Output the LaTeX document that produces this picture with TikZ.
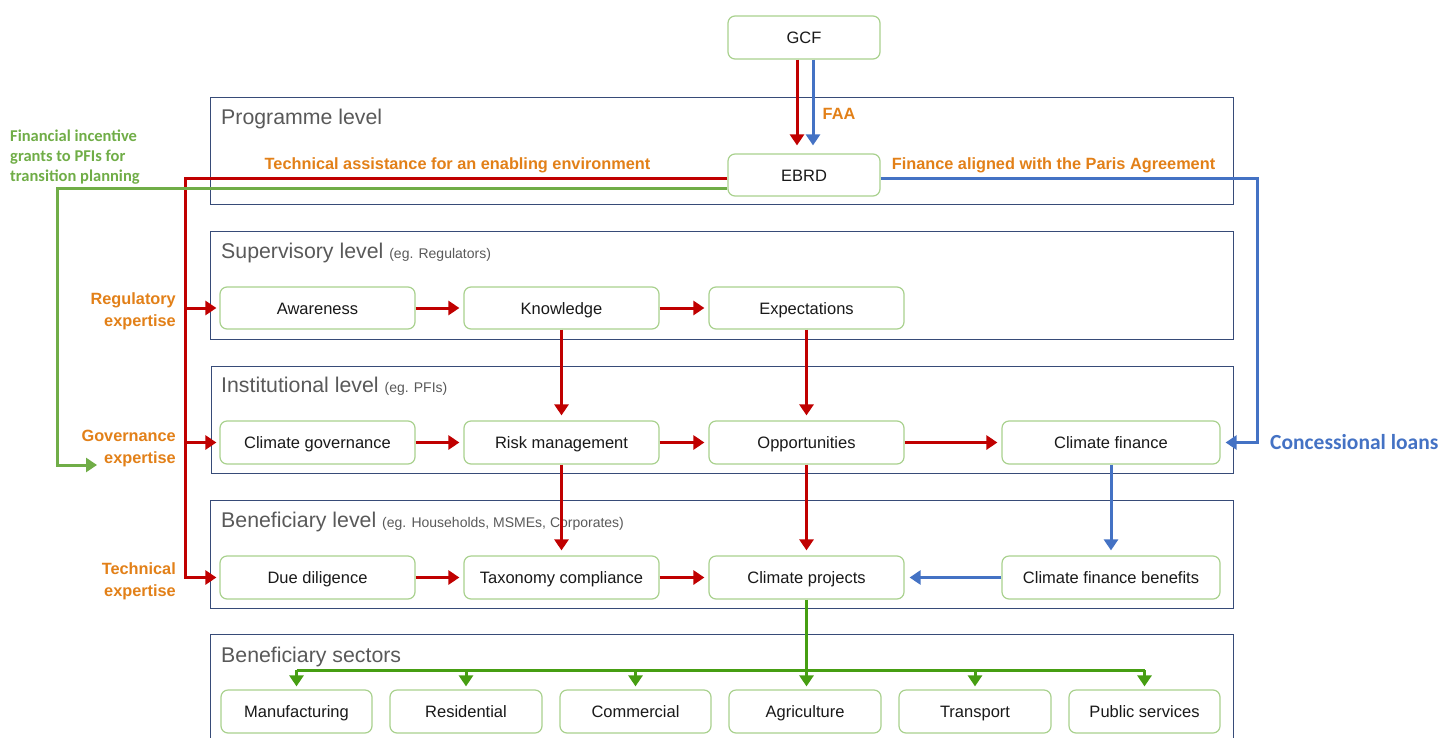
\documentclass[tikz,border=0pt]{standalone}
\usepackage{fontspec}
\setmainfont{Liberation Sans}
\newfontfamily\carlito{Carlito}
\usetikzlibrary{arrows.meta}
\definecolor{boxgreen}{RGB}{169,209,142}
\definecolor{panelc}{RGB}{55,75,120}
\definecolor{titlec}{RGB}{89,89,89}
\definecolor{txtc}{RGB}{25,25,25}
\definecolor{redc}{RGB}{192,0,0}
\definecolor{bluec}{RGB}{68,114,196}
\definecolor{lgreen}{RGB}{112,173,71}
\definecolor{dgreen}{RGB}{70,158,18}
\definecolor{orangec}{RGB}{226,128,24}
\tikzset{
  box/.style={draw=boxgreen, line width=1.2pt, rounded corners=7pt, fill=white, text=txtc,
    font=\fontsize{16.5}{19}\selectfont, inner sep=0pt, text height=12pt, text depth=0pt},
  panel/.style={draw=panelc, line width=1pt},
  ptitle/.style={anchor=base west, text=titlec, font=\fontsize{21.3}{24}\selectfont, inner sep=0pt},
  orl/.style={text=orangec, font=\bfseries\fontsize{16.3}{22}\selectfont, inner sep=0pt},
  tip/.style={-{Triangle[width=14pt,length=11pt]}},
  redl/.style={draw=redc, line width=3pt},
  bluel/.style={draw=bluec, line width=3pt},
  lgl/.style={draw=lgreen, line width=3pt},
  dgl/.style={draw=dgreen, line width=3pt},
}
\begin{document}
\begin{tikzpicture}[x=1pt,y=-1pt]
\useasboundingbox (0,0) rectangle (1440,737);
\clip (0,0) rectangle (1440,737);
% panels
\draw[panel] (210,97) rectangle (1233,204);
\draw[panel] (210,231) rectangle (1233,339);
\draw[panel] (211,366) rectangle (1233,473);
\draw[panel] (210,500) rectangle (1233,608);
\draw[panel] (210,634) rectangle (1233,760);
\node[ptitle] (t1) at (221,124.5) {Programme level};
\node[ptitle] (t2) at (221,258) {Supervisory level {\fontsize{14}{16}\selectfont (eg. Regulators)}};
\node[ptitle] (t3) at (221,392.5) {Institutional level {\fontsize{14}{16}\selectfont (eg. PFIs)}};
\node[ptitle] (t4) at (221,527.5) {Beneficiary level {\fontsize{14}{16}\selectfont (eg. Households, MSMEs, Corporates)}};
\node[ptitle] (t5) at (221,662.5) {Beneficiary sectors};
% boxes
\node[box, minimum width=152, minimum height=43] (gcf) at (804,37.5) {GCF};
\node[box, minimum width=152, minimum height=42] (ebrd) at (804,175) {EBRD};
\node[box, minimum width=195, minimum height=42] (aw) at (317.5,308) {Awareness};
\node[box, minimum width=195, minimum height=42] (kn) at (561.5,308) {Knowledge};
\node[box, minimum width=195, minimum height=42] (ex) at (806.5,308) {Expectations};
\node[box, minimum width=195, minimum height=43] (cg) at (317.5,442.5) {Climate governance};
\node[box, minimum width=195, minimum height=43] (rm) at (561.5,442.5) {Risk management};
\node[box, minimum width=195, minimum height=43] (op) at (806.5,442.5) {Opportunities};
\node[box, minimum width=218, minimum height=43] (cf) at (1111,442.5) {Climate finance};
\node[box, minimum width=195, minimum height=43] (dd) at (317.5,577.5) {Due diligence};
\node[box, minimum width=195, minimum height=43] (tc) at (561.5,577.5) {Taxonomy compliance};
\node[box, minimum width=195, minimum height=43] (cp) at (806.5,577.5) {Climate projects};
\node[box, minimum width=218, minimum height=43] (cfb) at (1111,577.5) {Climate finance benefits};
\node[box, minimum width=151, minimum height=43] (s1) at (296.5,711.5) {Manufacturing};
\node[box, minimum width=152, minimum height=43] (s2) at (466,711.5) {Residential};
\node[box, minimum width=151, minimum height=43] (s3) at (635.5,711.5) {Commercial};
\node[box, minimum width=152, minimum height=43] (s4) at (805,711.5) {Agriculture};
\node[box, minimum width=152, minimum height=43] (s5) at (975,711.5) {Transport};
\node[box, minimum width=151, minimum height=43] (s6) at (1144.5,711.5) {Public services};
% labels
\node[orl, anchor=base] (faa) at (839,119) {FAA};
\node[orl, anchor=base] (tae) at (457.5,169) {Technical assistance for an enabling environment};
\node[orl, anchor=base] (fap) at (1053.5,169) {Finance aligned with the Paris Agreement};
\node[orl, anchor=east, align=right] (lreg) at (176,311) {Regulatory\\expertise};
\node[orl, anchor=east, align=right] (lgov) at (176,448) {Governance\\expertise};
\node[orl, anchor=east, align=right] (ltec) at (176,581) {Technical\\expertise};
\node[anchor=north west, align=left, inner sep=0pt, text=lgreen,
  font=\carlito\bfseries\fontsize{16.5}{20}\selectfont] (fig) at (10,130) {Financial incentive\\grants to PFIs for\\transition planning};
\node[anchor=west, inner sep=0pt, text=bluec, font=\carlito\bfseries\fontsize{21.5}{24}\selectfont] (cl) at (1270,442) {Concessional loans};
% coordinates
\coordinate (rbend) at (185,577.5);
\coordinate (gbend) at (57,465);
\coordinate (garrow) at (97,465);
\coordinate (bbend) at (1257,442.5);
\coordinate (bar) at (0,670);
% GCF -> EBRD
\draw[redl, tip, shorten >=8pt] ([xshift=-7pt]gcf.south) -- ([xshift=-7pt]ebrd.north);
\draw[bluel, tip, shorten >=8pt] ([xshift=9pt]gcf.south) -- ([xshift=9pt]ebrd.north);
% red tree from EBRD
\draw[redl, tip, shorten >=3pt] ([yshift=-3pt]ebrd.west) -| (rbend) -- (dd.west);
\draw[redl, tip, shorten >=3pt] (aw.west -| rbend) -- (aw.west);
\draw[redl, tip, shorten >=3pt] (cg.west -| rbend) -- (cg.west);
% green from EBRD
\draw[lgl, tip] ([yshift=-13pt]ebrd.west) -| (gbend) -- (garrow);
% blue from EBRD
\draw[bluel, tip, shorten >=5pt] ([yshift=-3pt]ebrd.east) -| (bbend) -- (cf.east);
% horizontal red
\draw[redl, tip, shorten >=4pt] (aw) -- (kn);
\draw[redl, tip, shorten >=4pt] (kn) -- (ex);
\draw[redl, tip, shorten >=4pt] (cg) -- (rm);
\draw[redl, tip, shorten >=4pt] (rm) -- (op);
\draw[redl, tip, shorten >=4pt] (op) -- (cf);
\draw[redl, tip, shorten >=4pt] (dd) -- (tc);
\draw[redl, tip, shorten >=4pt] (tc) -- (cp);
% vertical red
\draw[redl, tip, shorten >=5pt] (kn.south) -- (rm.north);
\draw[redl, tip, shorten >=5pt] (ex.south) -- (op.north);
\draw[redl, tip, shorten >=5pt] (rm.south) -- (tc.north);
\draw[redl, tip, shorten >=5pt] (op.south) -- (cp.north);
% blue
\draw[bluel, tip, shorten >=5pt] (cf.south) -- (cfb.north);
\draw[bluel, tip, shorten >=5pt] (cfb.west) -- (cp.east);
% green sectors
\draw[dgl] (s1.north |- bar) -- (s6.north |- bar);
\draw[dgl, tip, shorten >=3pt] (cp.south) -- (cp.south |- s4.north);
\foreach \s in {s1,s2,s3,s5,s6}{
  \draw[dgl, tip, shorten >=3pt] (\s.north |- bar) -- (\s.north);
}
\end{tikzpicture}
\end{document}
